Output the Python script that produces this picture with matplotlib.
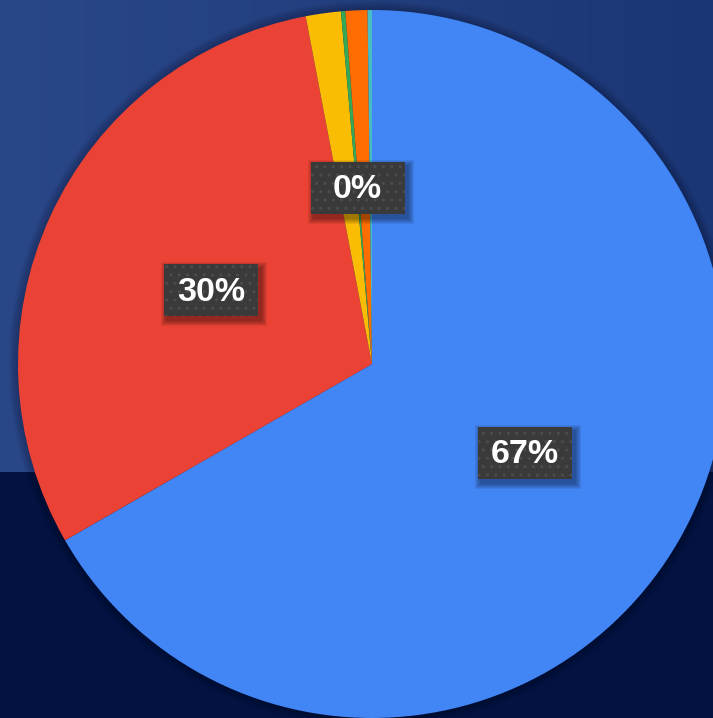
import matplotlib
matplotlib.use('Agg')
import matplotlib.pyplot as plt
from matplotlib.patches import Rectangle
import numpy as np

# Slice data (clockwise from 12 o'clock)
categories = ['A', 'B', 'C', 'D', 'E', 'F']
values = [66.7, 30.3, 1.6, 0.2, 1.0, 0.2]
colors = ['#4285f4', '#ea4335', '#fbbc04', '#34a853', '#ff6d01', '#46bdc6']
show_label = [True, True, False, True, False, False]

W, H, DPI = 713, 718, 100
cx, cy, R = 372, 364, 354  # pie centre / radius in pixels

fig = plt.figure(figsize=(W / DPI, H / DPI), dpi=DPI)

# background: navy band on top, darker navy below
bg = fig.add_axes([0, 0, 1, 1], zorder=0)
bg.set_axis_off()
yy, xx = np.mgrid[0:H, 0:W]
top = np.array([0x2a, 0x47, 0x88]) / 255.0
top_r = np.array([0x1b, 0x36, 0x74]) / 255.0
low = np.array([0x03, 0x12, 0x40]) / 255.0
t = (xx / W)[..., None]
img = top * (1 - t) + top_r * t
img = np.where((yy >= 472)[..., None], low, img)
bg.imshow(img, extent=[0, W, H, 0], aspect='auto')
bg.set_xlim(0, W)
bg.set_ylim(H, 0)

ax = fig.add_axes([0, 0, 1, 1], zorder=1)
ax.set_aspect('equal')
ax.patch.set_alpha(0)

# soft halo under the pie
for k in np.linspace(1.0, 1.025, 6):
  ax.add_patch(plt.Circle((0, 0), k, color='#000010', alpha=0.05, lw=0, zorder=1))

wedges, _ = ax.pie(values, colors=colors, startangle=90, counterclock=False,
                   radius=1, wedgeprops=dict(linewidth=0), center=(0, 0),
                   frame=True)
for w in wedges:
  w.set_zorder(2)
ax.set_xlim(-cx / R, (W - cx) / R)
ax.set_ylim(-(H - cy) / R, cy / R)
ax.set_axis_off()

# percentage labels at half radius, in dark boxes with a soft shadow
total = sum(values)
bw, bh = 94 / R, 52 / R
px = 1.0 / R
start = 90.0
for v, show in zip(values, show_label):
  sweep = 360.0 * v / total
  mid = np.deg2rad(start - sweep / 2)
  start -= sweep
  if not show:
    continue
  x, y = 0.5 * np.cos(mid), 0.5 * np.sin(mid)
  sx, sy = x + 3 * px, y - 4 * px
  for g in range(6, 0, -1):
    ax.add_patch(Rectangle((sx - bw / 2 - g * px, sy - bh / 2 - g * px),
                           bw + 2 * g * px, bh + 2 * g * px,
                           facecolor='black', alpha=0.07, lw=0, zorder=3))
  ax.add_patch(Rectangle((x - bw / 2, y - bh / 2), bw, bh, facecolor='#3a3a3a',
                         edgecolor='#4c4c4c', hatch='..', lw=0, zorder=3))
  ax.text(x, y - 2 * px, '%d%%' % round(100 * v / total), color='white',
          fontsize=24.5, fontweight='bold', family='Liberation Sans',
          ha='center', va='center', zorder=4)

fig.savefig('out.png', dpi=DPI)
